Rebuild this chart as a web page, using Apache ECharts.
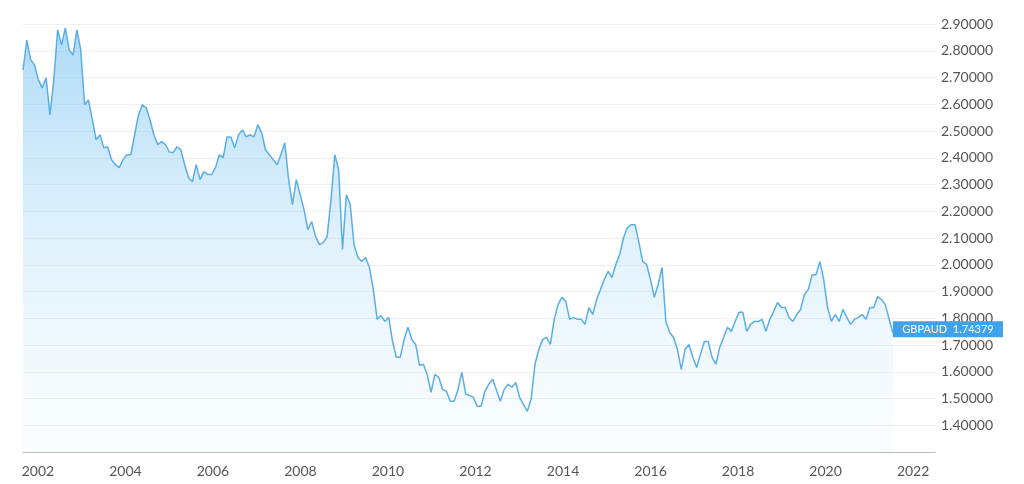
<!DOCTYPE html>
<html><head><meta charset="utf-8">
<script src="https://cdn.jsdelivr.net/npm/echarts@6/dist/echarts.min.js"></script>
<style>html,body{margin:0;padding:0;background:#fff}#c{width:1024px;height:484px}</style>
</head><body><div id="c"></div>
<script>
const startYear = 2001.66, endYear = 2021.54;
const values = [2.728,2.840,2.766,2.747,2.691,2.661,2.699,2.560,2.691,2.878,2.822,2.885,2.803,2.784,2.878,2.803,2.598,2.616,2.542,2.467,2.486,2.437,2.441,2.393,2.374,2.363,2.393,2.411,2.411,2.486,2.560,2.598,2.587,2.542,2.486,2.449,2.460,2.449,2.422,2.419,2.441,2.430,2.374,2.325,2.310,2.374,2.318,2.348,2.337,2.337,2.363,2.411,2.400,2.478,2.478,2.437,2.486,2.504,2.478,2.486,2.478,2.523,2.493,2.430,2.411,2.393,2.374,2.411,2.456,2.318,2.225,2.318,2.262,2.206,2.131,2.161,2.105,2.075,2.083,2.105,2.243,2.411,2.355,2.057,2.262,2.225,2.075,2.027,2.012,2.027,1.990,1.907,1.796,1.810,1.788,1.803,1.713,1.654,1.654,1.721,1.766,1.721,1.702,1.624,1.628,1.590,1.523,1.590,1.579,1.534,1.527,1.490,1.490,1.534,1.598,1.516,1.512,1.504,1.471,1.471,1.527,1.553,1.572,1.531,1.490,1.534,1.553,1.542,1.560,1.504,1.478,1.452,1.497,1.628,1.684,1.721,1.728,1.702,1.796,1.851,1.878,1.863,1.796,1.803,1.796,1.796,1.777,1.840,1.814,1.870,1.907,1.945,1.975,1.952,2.001,2.038,2.101,2.139,2.150,2.150,2.083,2.012,2.001,1.945,1.878,1.926,1.990,1.788,1.747,1.728,1.684,1.609,1.684,1.702,1.654,1.616,1.665,1.713,1.713,1.654,1.628,1.691,1.728,1.766,1.751,1.788,1.822,1.822,1.751,1.777,1.788,1.788,1.796,1.751,1.796,1.825,1.859,1.840,1.840,1.803,1.788,1.814,1.833,1.889,1.907,1.963,1.963,2.012,1.945,1.840,1.788,1.814,1.788,1.833,1.803,1.777,1.796,1.803,1.814,1.796,1.840,1.840,1.881,1.870,1.851,1.796,1.744];
const lastValue = 1.74379;
const yearTicks = [2002,2004,2006,2008,2010,2012,2014,2016,2018,2020,2022];
const n = values.length;
const data = values.map((v,i)=>[startYear + (endYear-startYear)*i/(n-1), v]);
const chart = echarts.init(document.getElementById('c'));
chart.setOption({
  animation:false,
  grid:{left:23,right:89,top:24,bottom:32},
  xAxis:{type:'value',min:startYear,max:2022.5,
    axisLine:{show:true,lineStyle:{color:'#bbb'}},axisTick:{show:false},splitLine:{show:false},
    axisLabel:{color:'#555',fontSize:14,fontFamily:'Lato',margin:12,
      customValues:yearTicks,formatter:v=>String(Math.round(v))}},
  yAxis:{type:'value',position:'right',min:1.3,max:2.9,interval:0.1,
    axisLine:{show:false},axisTick:{show:false},
    splitLine:{lineStyle:{color:'#efefef'}},
    axisLabel:{color:'#555',fontSize:14,fontFamily:'Lato',margin:6,
      formatter:v=> v<1.35?'':v.toFixed(5)}},
  series:[{type:'line',data:data,symbol:'none',
    lineStyle:{color:'#5aaee8',width:1.5},
    areaStyle:{color:new echarts.graphic.LinearGradient(0,0,0,1,[{offset:0,color:'rgba(110,190,240,0.8)'},{offset:1,color:'rgba(220,240,252,0.2)'}])},
    markPoint:{silent:true,data:[{coord:[endYear,lastValue]}],
      symbol:'rect',symbolSize:[110,16],symbolOffset:[55,-4],
      itemStyle:{color:'#3ea2ee'},
      label:{show:true,position:'inside',offset:[0,0],formatter:'GBPAUD  '+lastValue.toFixed(5),color:'#fff',
        fontSize:11,fontFamily:'Lato'}}}]
});
</script></body></html>
